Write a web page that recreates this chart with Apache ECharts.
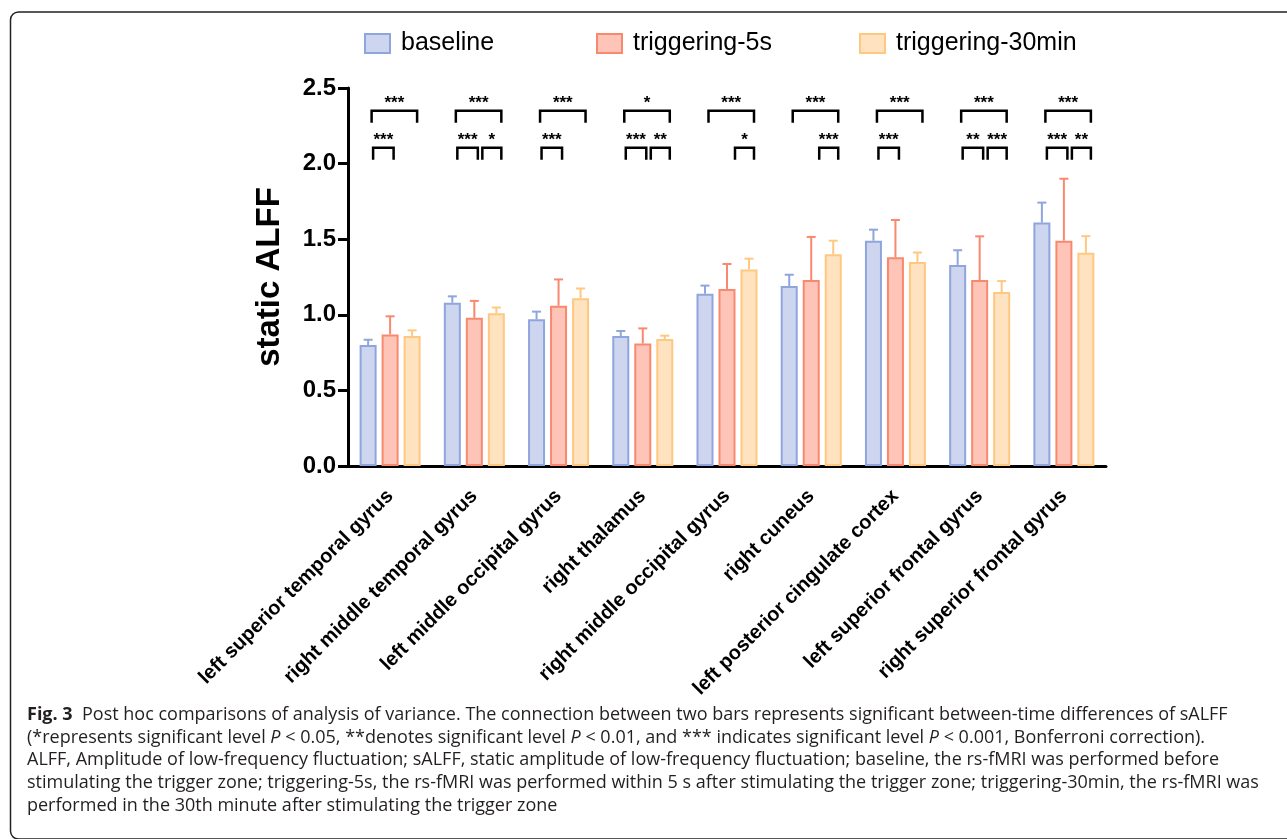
<!DOCTYPE html>
<html>
<head>
<meta charset="utf-8">
<script src="https://cdn.jsdelivr.net/npm/echarts@6/dist/echarts.min.js"></script>
<style>
html,body{margin:0;padding:0;background:#fff;}
#chart{width:1287px;height:839px;}
</style>
</head>
<body>
<div id="chart"></div>
<script>
// regions on the x axis
var categories = ['left superior temporal gyrus', 'right middle temporal gyrus', 'left middle occipital gyrus',
  'right thalamus', 'right middle occipital gyrus', 'right cuneus', 'left posterior cingulate cortex',
  'left superior frontal gyrus', 'right superior frontal gyrus'];

// mean sALFF
var baseline = [0.80, 1.08, 0.97, 0.86, 1.14, 1.19, 1.49, 1.33, 1.61];
var trig5s   = [0.87, 0.98, 1.06, 0.81, 1.17, 1.23, 1.38, 1.23, 1.49];
var trig30   = [0.86, 1.01, 1.11, 0.84, 1.30, 1.40, 1.35, 1.15, 1.41];
// upper error (SD)
var baselineSd = [0.035, 0.042, 0.051, 0.033, 0.053, 0.075, 0.073, 0.097, 0.132];
var trig5sSd   = [0.12, 0.112, 0.174, 0.10, 0.166, 0.285, 0.247, 0.289, 0.41];
var trig30Sd   = [0.037, 0.038, 0.064, 0.022, 0.071, 0.09, 0.062, 0.073, 0.11];

// significance marks
var sigBaseVs30 = ['***', '***', '***', '*', '***', '***', '***', '***', '***'];
var sigBaseVs5s = ['***', '***', '***', '***', '', '', '***', '**', '***'];
var sig5sVs30   = ['', '*', '', '**', '*', '***', '', '***', '**'];

var yTicks = [0, 0.5, 1.0, 1.5, 2.0, 2.5];

var captionLines = [
  '{b|Fig. 3}  Post hoc comparisons of analysis of variance. The connection between two bars represents significant between-time differences of sALFF',
  '(*represents significant level {i|P} < 0.05, **denotes significant level {i|P} < 0.01, and *** indicates significant level {i|P} < 0.001, Bonferroni correction).',
  'ALFF, Amplitude of low-frequency fluctuation; sALFF, static amplitude of low-frequency fluctuation; baseline, the rs-fMRI was performed before',
  'stimulating the trigger zone; triggering-5s, the rs-fMRI was performed within 5 s after stimulating the trigger zone; triggering-30min, the rs-fMRI was',
  'performed in the 30th minute after stimulating the trigger zone'
];

var fills   = ['#CDD6EE', '#FFC4B8', '#FFE2C0'];
var borders = ['#8FA5DD', '#F8896F', '#FFC880'];
var names   = ['baseline', 'triggering-5s', 'triggering-30min'];
var barW = 17, barStep = 22;

var myChart = echarts.init(document.getElementById('chart'));

function barSeries(k, vals) {
  return {
    name: names[k], type: 'bar', data: vals,
    barWidth: barW, barGap: ((barStep - barW) / barW * 100) + '%',
    itemStyle: { color: fills[k], borderColor: borders[k], borderWidth: 2 },
    z: 3
  };
}

function errSeries(k, vals, sds) {
  return {
    name: 'err' + k, type: 'custom',
    data: vals.map(function (v, i) { return [i, v, sds[i]]; }),
    encode: { x: 0, y: 1 },
    z: 2,
    renderItem: function (params, api) {
      var c = api.value(0), m = api.value(1), s = api.value(2);
      var p0 = api.coord([c, m]), p1 = api.coord([c, m + s]);
      var x = p0[0] + (k - 1) * barStep;
      var st = { stroke: borders[k], lineWidth: 2 };
      return { type: 'group', children: [
        { type: 'line', shape: { x1: x, y1: p0[1], x2: x, y2: p1[1] }, style: st },
        { type: 'line', shape: { x1: x - 4.5, y1: p1[1], x2: x + 4.5, y2: p1[1] }, style: st }
      ]};
    }
  };
}

// brackets: kind 0 = baseline vs 30min (top row), 1 = baseline vs 5s, 2 = 5s vs 30min
var brackets = [];
categories.forEach(function (c, i) {
  if (sigBaseVs30[i]) brackets.push({ cat: i, kind: 0, text: sigBaseVs30[i] });
  if (sigBaseVs5s[i]) brackets.push({ cat: i, kind: 1, text: sigBaseVs5s[i] });
  if (sig5sVs30[i]) brackets.push({ cat: i, kind: 2, text: sig5sVs30[i] });
});
var bracketX = [[-18.5, 27], [-17, 3.5], [8, 27]];
var bracketY = [[2.35, 2.27], [2.105, 2.025]];

var captionY = [715, 738, 760, 783, 806];
var capFont = '18px Open Sans, sans-serif';

var option = {
  animation: false,
  backgroundColor: '#fff',
  textStyle: { fontFamily: 'Liberation Sans, Arial, sans-serif' },
  legend: names.map(function (n, k) {
    return {
      data: [n], left: [359, 591, 854][k], top: 26,
      icon: 'rect', itemWidth: 25, itemHeight: 19,
      textStyle: { fontSize: 25, color: '#000', lineHeight: 25, padding: [0, 0, 0, 6] },
      selectedMode: false
    };
  }),
  grid: { left: 348, right: 181, top: 88, bottom: 373, containLabel: false },
  xAxis: {
    type: 'category', data: categories,
    axisLine: { lineStyle: { color: '#000', width: 3 } },
    axisTick: { alignWithLabel: true, length: 8, lineStyle: { color: '#000', width: 3 } },
    axisLabel: { rotate: 45, interval: 0, margin: 27, fontSize: 20, fontWeight: 'bold', color: '#000' }
  },
  yAxis: {
    type: 'value', min: yTicks[0], max: yTicks[yTicks.length - 1], interval: 0.5,
    name: 'static ALFF', nameLocation: 'middle', nameGap: 62, nameRotate: 90,
    nameTextStyle: { fontSize: 33, fontWeight: 'bold', color: '#000' },
    axisLine: { show: true, lineStyle: { color: '#000', width: 3 } },
    axisTick: { show: true, length: 10, lineStyle: { color: '#000', width: 3 } },
    axisLabel: { margin: 12, fontSize: 24, fontWeight: 'bold', color: '#000',
      formatter: function (v) { return v.toFixed(1); } },
    splitLine: { show: false }
  },
  series: [
    barSeries(0, baseline), barSeries(1, trig5s), barSeries(2, trig30),
    errSeries(0, baseline, baselineSd), errSeries(1, trig5s, trig5sSd), errSeries(2, trig30, trig30Sd),
    {
      name: 'sig', type: 'custom',
      data: brackets.map(function (b) { return [b.cat, b.kind]; }),
      encode: { x: 0, y: 1 },
      z: 5,
      renderItem: function (params, api) {
        var b = brackets[params.dataIndex];
        var row = b.kind === 0 ? 0 : 1;
        var top = api.coord([b.cat, bracketY[row][0]]);
        var leg = api.coord([b.cat, bracketY[row][1]]);
        var x1 = top[0] + bracketX[b.kind][0], x2 = top[0] + bracketX[b.kind][1];
        return { type: 'group', children: [
          { type: 'polyline', shape: { points: [[x1, leg[1]], [x1, top[1]], [x2, top[1]], [x2, leg[1]]] },
            style: { stroke: '#000', lineWidth: 2.5, fill: null } },
          { type: 'text', style: { text: b.text, x: (x1 + x2) / 2, y: top[1] + 1, align: 'center', verticalAlign: 'bottom',
            font: 'bold 17px Liberation Sans, Arial, sans-serif', fill: '#000' } }
        ]};
      }
    }
  ],
  graphic: [
    { type: 'rect', shape: { x: 10.5, y: 12, width: 1400, height: 827, r: 8 },
      style: { fill: null, stroke: '#222', lineWidth: 1.5 }, silent: true }
  ].concat(captionLines.map(function (t, i) {
    return { type: 'text', style: {
      text: t, x: 27, y: captionY[i], verticalAlign: 'middle',
      font: capFont, fill: '#231f20',
      rich: {
        b: { font: 'bold 18px Open Sans, sans-serif', fill: '#231f20' },
        i: { font: 'italic 18px Open Sans, sans-serif', fill: '#231f20' }
      } } };
  }))
};

myChart.setOption(option);
window.addEventListener('resize', function () { myChart.resize(); });
</script>
</body>
</html>
